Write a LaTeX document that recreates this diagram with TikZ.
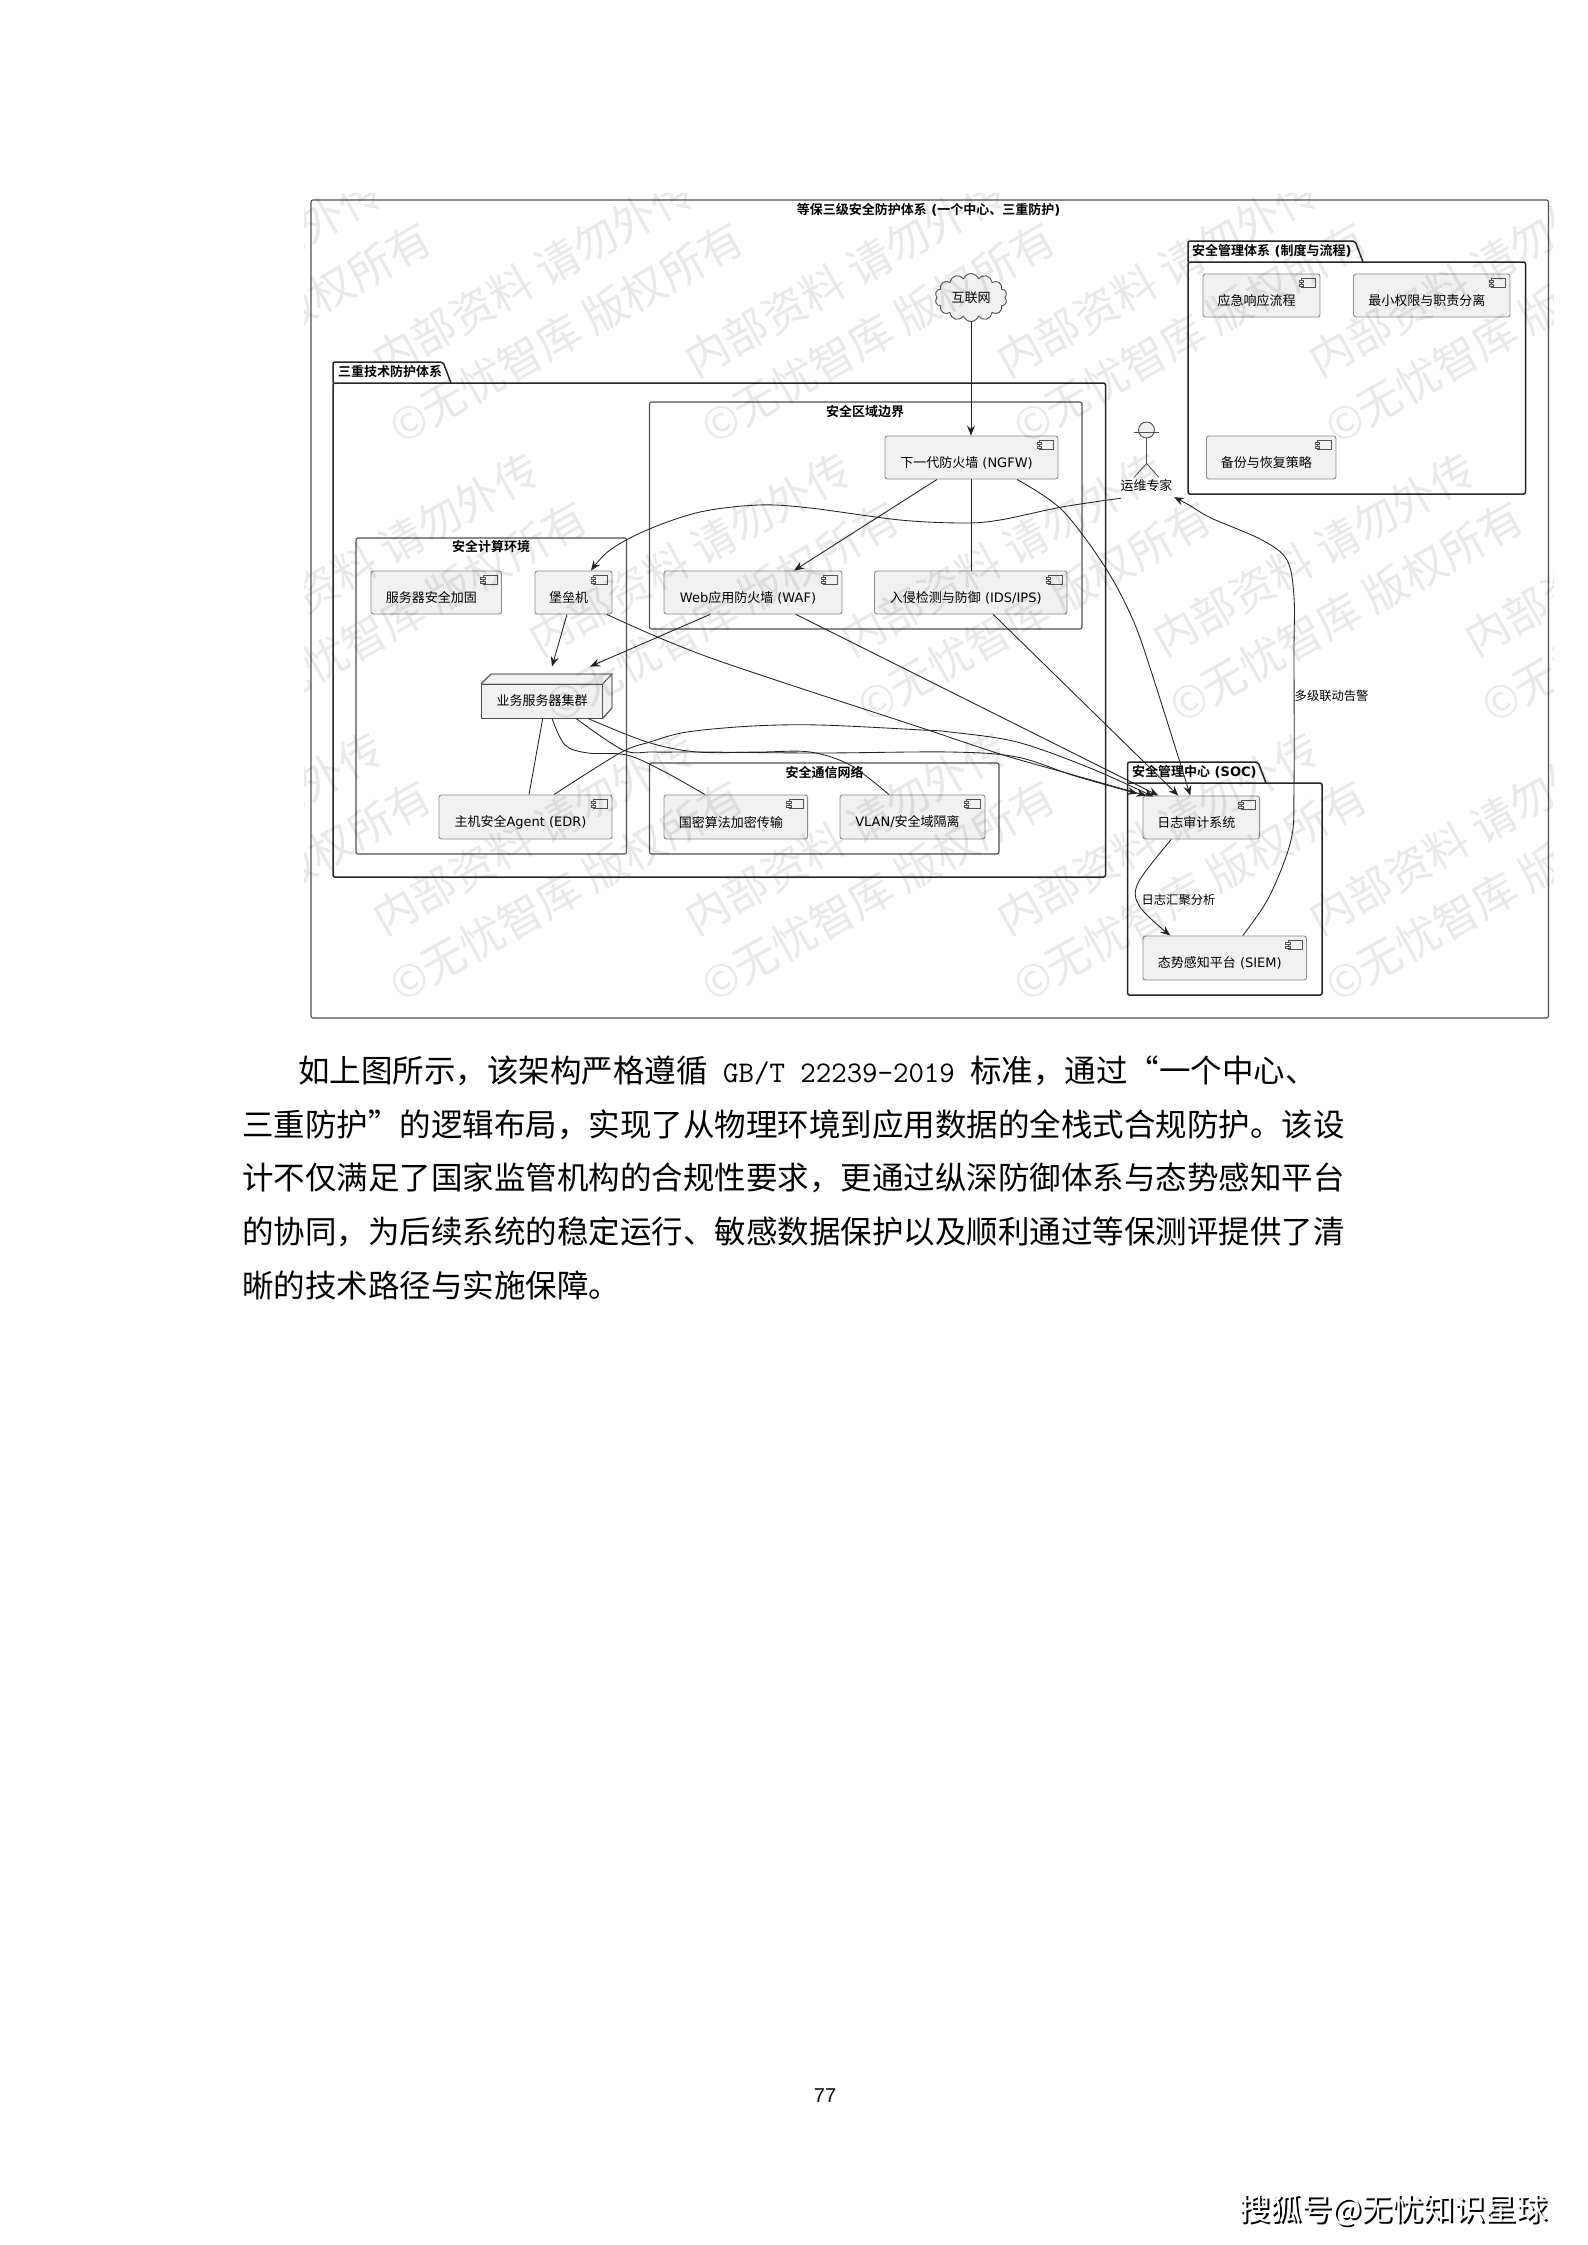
\documentclass[tikz,border=0pt]{standalone}
\usepackage{fontspec}
\setmainfont{DejaVu Sans}
\newfontfamily\cjk[BoldFont=* Bold]{Noto Sans CJK SC}
\newfontfamily\pagefont{Liberation Sans}
\usetikzlibrary{arrows.meta,shapes.symbols}
\XeTeXlinebreaklocale "zh"
\XeTeXlinebreakskip=0pt plus 3pt minus 3pt
\definecolor{nodefill}{HTML}{F1F1F1}
\definecolor{nodeline}{HTML}{8A8A8A}
\definecolor{frameline}{HTML}{505050}
\definecolor{edgeline}{HTML}{222222}
\tikzset{
  compbox/.style={draw=nodeline,fill=nodefill,line width=.9pt,rounded corners=2.5pt,inner sep=0pt,font=\fontsize{13}{15}\selectfont},
  compicon/.style={draw=frameline,fill=nodefill,line width=.7pt},
  pkgframe/.style={draw=black!85,line width=1.5pt,rounded corners=2pt},
  rectframe/.style={draw=frameline,line width=1.1pt,rounded corners=2pt},
  titletext/.style={font=\fontsize{13}{15}\selectfont\bfseries,inner sep=0pt},
  labeltext/.style={font=\fontsize{12.3}{14}\selectfont,inner sep=0pt},
  edge/.style={draw=edgeline,line width=.85pt},
  arrowedge/.style={edge,-{Stealth[length=10pt,width=8pt,inset=3.5pt]}},
  smoothplot/.style={smooth,tension=.55},
  para/.style={anchor=west,inner sep=0pt,font=\fontsize{31.5}{36}\selectfont\cjk},
  wm/.style={align=center,font=\fontsize{44}{66}\selectfont\cjk,text=black,opacity=.085,rotate=29.5,inner sep=0pt},
}
% #1 name, #2 x-left, #3 y-top, #4 x-right, #5 y-bottom, #6 text
\newcommand\compnode[6]{%
  \node[compbox,minimum width=\dimexpr#4pt-#2pt\relax,minimum height=\dimexpr#5pt-#3pt\relax] (#1)
     at ({(#2+#4)/2},{(#3+#5)/2}) {\vbox{\kern10pt\hbox{#6\kern10pt}}};
  \draw[compicon] ([xshift=-19pt,yshift=-5pt]#1.north east) rectangle ([xshift=-5pt,yshift=-14pt]#1.north east);
  \draw[compicon] ([xshift=-21.5pt,yshift=-7pt]#1.north east) rectangle ([xshift=-17pt,yshift=-9pt]#1.north east);
  \draw[compicon] ([xshift=-21.5pt,yshift=-10.5pt]#1.north east) rectangle ([xshift=-17pt,yshift=-12.5pt]#1.north east);
}
% #1 x-left, #2 y-tab-top, #3 x-tab-right, #4 y-body-top, #5 x-right, #6 y-bottom
\newcommand\pkgshape[6]{%
  \draw[pkgframe] (#1,#4) -- (#1,#2) -- ({#3-8},#2) -- (#3,#4);
  \draw[pkgframe] (#1,#4) rectangle (#5,#6);
}
\begin{document}
\begin{tikzpicture}[x=1pt,y=-1pt]
\useasboundingbox (0,0) rectangle (1587,2245);
\fill[white] (0,0) rectangle (1587,2245);

% outer frame
\draw[rectframe] (311,200) rectangle (1548.5,1018);
\node[titletext] (maintitle) at (928.6,210) {{\cjk 等保三级安全防护体系} ({\cjk 一个中心、三重防护})};

% packages
\pkgshape{333}{362}{451}{383}{1105.5}{877}
\node[titletext,anchor=west] (pkgthree) at (338,372) {\cjk 三重技术防护体系};
\pkgshape{1188}{241}{1363}{262}{1525.5}{494}
\node[titletext,anchor=west] (pkgmgmt) at (1192,251) {{\cjk 安全管理体系} ({\cjk 制度与流程})};
\pkgshape{1127.6}{762}{1266}{783}{1322}{995}
\node[titletext,anchor=west] (pkgsoc) at (1132,772) {{\cjk 安全管理中心} (SOC)};

% rectangles
\draw[rectframe] (649.5,402) rectangle (1082,629);
\node[titletext] (titleborder) at (865,412) {\cjk 安全区域边界};
\draw[rectframe] (356,538) rectangle (626.5,854);
\node[titletext] (titlecompute) at (491,547) {\cjk 安全计算环境};
\draw[rectframe] (649.5,763) rectangle (999,854);
\node[titletext] (titlenet) at (824.5,772) {\cjk 安全通信网络};

% cloud
\node[cloud,cloud puffs=14,cloud puff arc=140,draw=frameline,fill=nodefill,line width=.9pt,aspect=1.5,inner sep=0pt,
      minimum width=72pt,minimum height=48pt,font=\fontsize{13}{15}\selectfont\cjk] (cloudnet) at (971,297.5) {互联网};

% components
\compnode{ngfw}{885}{436}{1058}{479}{{\cjk 下一代防火墙} (NGFW)}
\compnode{waf}{664}{571}{842}{614}{Web{\cjk 应用防火墙} (WAF)}
\compnode{ids}{874.5}{571}{1067}{614}{{\cjk 入侵检测与防御} (IDS/IPS)}
\compnode{harden}{371}{571}{501.5}{614}{{\cjk 服务器安全加固}}
\compnode{bastion}{535}{571}{612}{614}{{\cjk 堡垒机}}
\compnode{edr}{439}{795}{612}{839}{{\cjk 主机安全}Agent (EDR)}
\compnode{sm}{664}{795}{807.6}{839}{{\cjk 国密算法加密传输}}
\compnode{vlan}{840}{795}{985}{839}{VLAN/{\cjk 安全域隔离}}
\compnode{resp}{1203}{274}{1320}{317}{{\cjk 应急响应流程}}
\compnode{priv}{1353.5}{274}{1510}{317}{{\cjk 最小权限与职责分离}}
\compnode{backup}{1206.5}{436}{1336}{479}{{\cjk 备份与恢复策略}}
\compnode{logaudit}{1143}{796}{1259.6}{839}{{\cjk 日志审计系统}}
\compnode{siem}{1143}{936}{1306.5}{980}{{\cjk 态势感知平台} (SIEM)}

% server cluster (3D node)
\draw[draw=nodeline,fill=nodefill,line width=.9pt,line join=round] (481.6,684) -- (491,674) -- (612,674) -- (612,708) -- (602.5,718) -- (602.5,684) -- cycle;
\node[draw=frameline,fill=nodefill,line width=.9pt,inner sep=0pt,minimum width=121pt,minimum height=34pt,font=\fontsize{13}{15}\selectfont\cjk] (srv) at (542,701) {业务服务器集群};
\draw[draw=frameline,line width=.9pt] (srv.north east) -- (612,674) -- (612,708) -- (srv.south east);
\draw[draw=frameline,line width=.9pt] (srv.north west) -- (491,674) -- (612,674);

% actor
\node[circle,draw=frameline,fill=nodefill,line width=.9pt,minimum size=16pt,inner sep=0pt] (actor) at (1146.5,430) {};
\draw[draw=frameline,line width=.8pt] (actor.south) -- ++(0,25) coordinate (actorhip);
\draw[draw=frameline,line width=.8pt] ([xshift=-12.5pt,yshift=6pt]actor.south) -- ([xshift=12.5pt,yshift=6pt]actor.south);
\draw[draw=frameline,line width=.8pt] ([xshift=-12.5pt]actorhip) ++(0,14) -- (actorhip) -- ++(12.5,14);
\node[inner sep=0pt,font=\fontsize{12.9}{15}\selectfont\cjk] (actorlabel) at (1146.5,486) {运维专家};

% connectors
\draw[arrowedge] (cloudnet.south) -- (cloudnet.south |- ngfw.north);
\draw[arrowedge] ([xshift=-34.5pt]ngfw.south) -- ([xshift=41pt]waf.north);
\draw[edge] (ngfw.south -| cloudnet.south) -- (ids.north -| cloudnet.south);
\draw[arrowedge] plot[smoothplot] coordinates {([xshift=45.5pt]ngfw.south) (1062,510) (1105,567) (1133,620) (1153,677) ([xshift=-11pt]logaudit.north)};
\draw[arrowedge] ([xshift=22.5pt]ids.south) -- ([xshift=-23pt]logaudit.north);
\draw[arrowedge] ([xshift=43pt]waf.south) -- ([xshift=-43pt]logaudit.north);
\draw[arrowedge] ([xshift=-43pt]waf.south) -- ([xshift=48pt,yshift=17pt]srv.north);
\draw[arrowedge] ([xshift=-6.5pt]bastion.south) -- ([xshift=10pt,yshift=17pt]srv.north);
\draw[arrowedge] plot[smoothplot] coordinates {([xshift=33.5pt]bastion.south) (708,657) (922,728) (1000,754) (1070,774) ([xshift=-55pt]logaudit.north)};
\draw[edge] ([xshift=.7pt]srv.south) -- ([xshift=3.5pt]edr.north);
\draw[edge] plot[smoothplot] coordinates {([xshift=10pt]srv.south) (565,745) (588,753) (627,755) (665,772) ([xshift=-31pt]sm.north)};
\draw[edge] plot[smoothplot] coordinates {([xshift=46pt]srv.south) (647,742) (697,752) (760,752) (810,752) (850,765) ([xshift=-23.5pt]vlan.north)};
\draw[arrowedge] plot[smoothplot] coordinates {([xshift=34pt]srv.south) (623,750) (653,752) (703,752) (820,753) (950,752) (1017,757) (1075,776) ([xshift=-64pt,yshift=2pt]logaudit.north)};
\draw[arrowedge] plot[smoothplot] coordinates {([xshift=28.5pt]edr.north) (620,753) (650,742) (687,732) (753,726) (820,725) (922,730) (950,732) (1017,742) (1090,768) ([xshift=-48pt,yshift=-1pt]logaudit.north)};
\draw[arrowedge] plot[smoothplot] coordinates {([xshift=-30pt]logaudit.south) (1138,883) (1140,907) ([xshift=-54.5pt]siem.north)};
\draw[arrowedge] plot[smoothplot] coordinates {([xshift=18pt]siem.north) (1269,897) (1291,840) (1294,787) (1294,653) (1294,597) (1287,560) (1262,540) (1211,518) (1189,505) ([xshift=27.5pt,yshift=-5pt]actorlabel.south)};
\draw[arrowedge] plot[smoothplot] coordinates {([xshift=-25.5pt,yshift=-6pt]actorlabel.south) (1062,507) (1000,520) (963,523) (900,520) (810,508) (759,505) (700,512) (647,530) (610,550) ([xshift=17.5pt]bastion.north)};

\node[labeltext] (lblsum) at (1178.5,900) {\cjk 日志汇聚分析};
\node[labeltext] (lblalarm) at (1331.6,696) {\cjk 多级联动告警};

% watermark
\begin{scope}
\clip (304,194) rectangle (1553,1022);
\foreach \k in {-1,0,1,2} {
  \foreach \i in {-1,0,1,2,3} {
    \pgfmathsetmacro{\wmx}{550+312*\i+156*mod(\k+2,2)}
    \pgfmathsetmacro{\wmy}{304+279*\k}
    \node[wm,name=wm\i\k] at (\wmx,\wmy) {内部资料 请勿外传\\©无忧智库 版权所有};
  }
}
\end{scope}

% body text
\node[para] (pa) at (298,1071) {\hbox to 1042pt{如上图所示，该架构严格遵循{\ttfamily\fontsize{30}{36}\selectfont\ GB/T 22239-2019\ }标准，通过“一个中心、}};
\node[para] (pb) at (242,1125) {\hbox to 1103pt{三重防护”的逻辑布局，实现了从物理环境到应用数据的全栈式合规防护。该设}};
\node[para] (pc) at (242,1178) {\hbox to 1103pt{计不仅满足了国家监管机构的合规性要求，更通过纵深防御体系与态势感知平台}};
\node[para] (pd) at (242,1232) {\hbox to 1103pt{的协同，为后续系统的稳定运行、敏感数据保护以及顺利通过等保测评提供了清}};
\node[para] (pe) at (242,1285) {晰的技术路径与实施保障。};

% page number
\node[inner sep=0pt,font=\fontsize{20}{24}\selectfont\pagefont] (pagenum) at (825,2096) {77};

% platform mark
\node[inner sep=0pt,font=\fontsize{31}{36}\selectfont\cjk] (mark) at (1393.5,2211) {\rlap{\kern1.8pt\raisebox{-1.6pt}{\color{black}搜狐号@无忧知识星球}}{\color{white}搜狐号@无忧知识星球}};
\end{tikzpicture}
\end{document}
